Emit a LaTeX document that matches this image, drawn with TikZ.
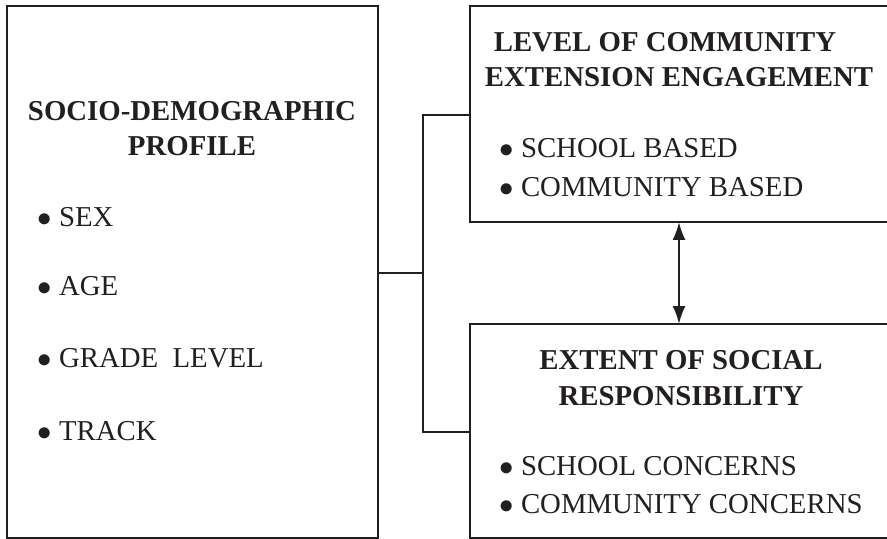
\documentclass[tikz,border=0pt]{standalone}
\usepackage{fontspec}
\setmainfont{Liberation Serif}
\usetikzlibrary{arrows.meta,positioning,calc}
\definecolor{inkC}{RGB}{35,31,32}
\newcommand{\boxfont}{\fontsize{14.4}{17}\selectfont}
\tikzset{
  panel/.style={draw=inkC,line width=1.1pt,outer sep=0pt,inner sep=0pt,anchor=north west},
  head/.style={inkC,font=\boxfont\bfseries,anchor=base,inner sep=0pt},
  item/.style={inkC,font=\boxfont,anchor=base west,inner sep=0pt},
  link/.style={draw=inkC,line width=1.1pt}
}

\begin{document}
\begin{tikzpicture}[x=0.5pt,y=-0.5pt,>={Latex[length=9pt,width=6.5pt]}]
  \clip (0,0) rectangle (887,539);
  % the three panels
  \node[panel,minimum width=185.5pt,minimum height=266pt] (profile) at (7,6) {};
  \node[panel,minimum width=212.5pt,minimum height=108pt] (engage) at (470,6) {};
  \node[panel,minimum width=212.5pt,minimum height=107pt] (resp) at (470,324) {};
  % left panel text
  \node[head] (ptitleA) at (192,121) {SOCIO-DEMOGRAPHIC};
  \node[head] (ptitleB) at (192,156) {PROFILE};
  \foreach \txt/\yy [count=\i] in {SEX/227,AGE/296,GRADE\ \ LEVEL/367,TRACK/440}{
    \node[item] (pitem\i) at (37,\yy) {$\bullet$ \txt};
  }
  % upper right panel text
  \node[head] (etitleA) at (665,52) {LEVEL OF COMMUNITY};
  \node[head] (etitleB) at (679,87) {EXTENSION ENGAGEMENT};
  \node[item] (eitem1) at (499,158) {$\bullet$ SCHOOL BASED};
  \node[item] (eitem2) at (499,197) {$\bullet$ COMMUNITY BASED};
  % lower right panel text
  \node[head] (rtitleA) at (681,369) {EXTENT OF SOCIAL};
  \node[head] (rtitleB) at (681,405) {RESPONSIBILITY};
  \node[item] (ritem1) at (499,475) {$\bullet$ SCHOOL CONCERNS};
  \node[item] (ritem2) at (499,513) {$\bullet$ COMMUNITY CONCERNS};
  % bracket from profile to both panels
  \coordinate (jmid) at (423,273);
  \coordinate (jtop) at (423,115);
  \coordinate (jbot) at (423,432);
  \draw[link] (jmid -| profile.east) -- (jmid);
  \draw[link] (engage.west |- jtop) -- (jtop) -- (jbot) -- (resp.west |- jbot);
  % two-way link between the right panels
  \coordinate (arr) at (679,0);
  \draw[link,<->] (engage.south -| arr) -- (resp.north -| arr);
\end{tikzpicture}
\end{document}
